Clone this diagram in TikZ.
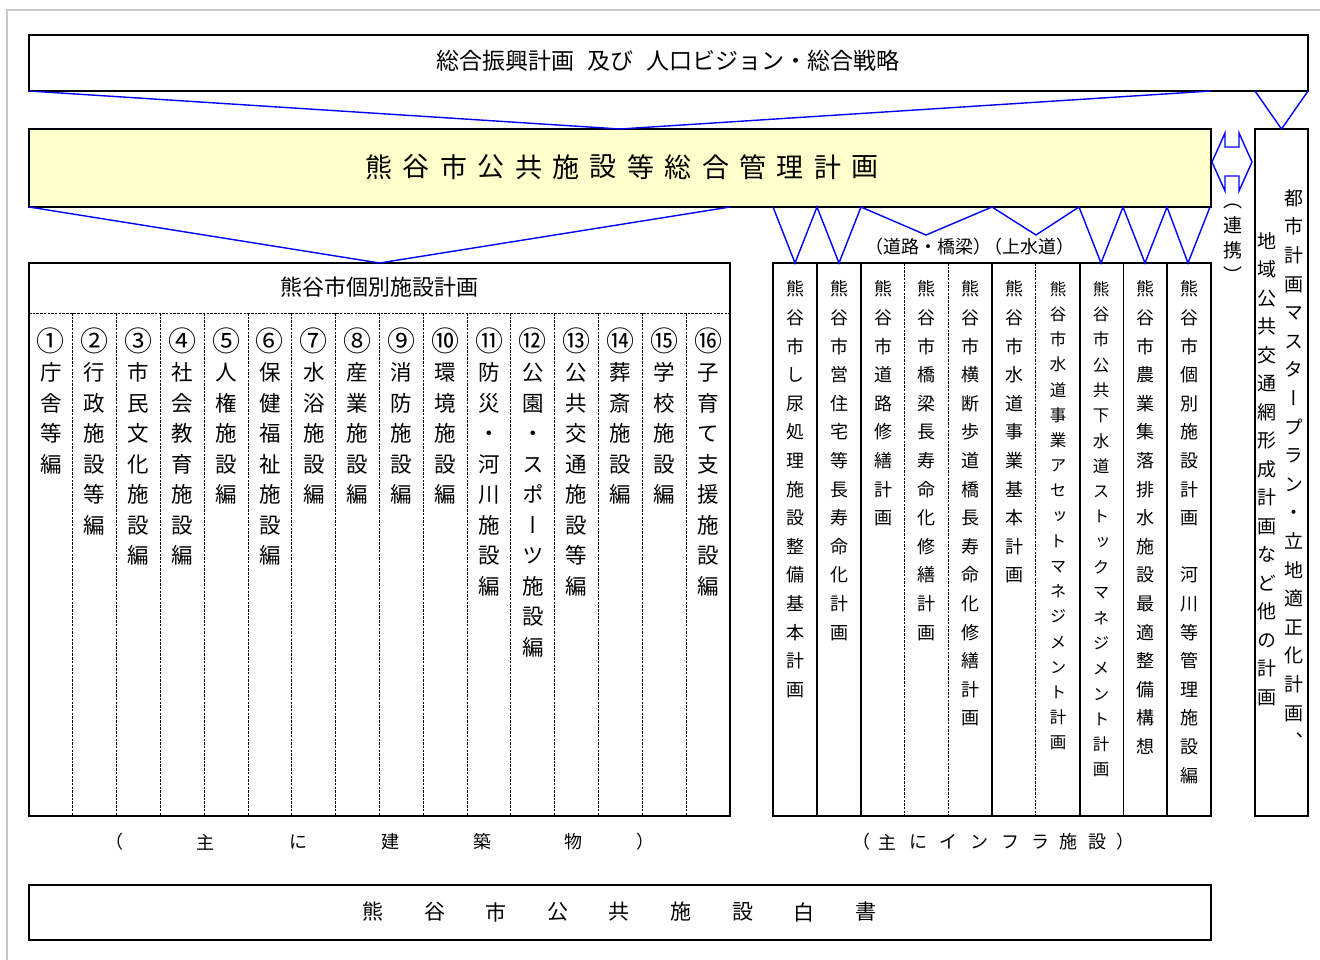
\documentclass[tikz,border=0pt]{standalone}
\usepackage{fontspec}
\setmainfont{Noto Sans CJK JP}
\newfontfamily\vfont[RawFeature=+vert]{Noto Sans CJK JP}
\usetikzlibrary{calc}
\definecolor{yellowbg}{RGB}{255,255,204}
\definecolor{framegray}{RGB}{200,200,200}
\definecolor{lineblue}{RGB}{0,0,255}
\ExplSyntaxOn
\dim_new:N \l_vt_pitch_dim
\tl_new:N \l_vt_text_tl
\NewDocumentCommand{\vt}{mm}{
  \dim_set:Nn \l_vt_pitch_dim {#1}
  \tl_set:Nx \l_vt_text_tl {#2}
  \vbox:n {
    \offinterlineskip
    \tl_map_inline:Nn \l_vt_text_tl {
      \hbox_to_wd:nn {1.2em} { \hss \vbox_to_ht:nn {\l_vt_pitch_dim} { \vss \hbox:n { \vrule height 0.88em depth 0.12em width 0pt ##1 } \vss } \hss }
    }
  }
}
\ExplSyntaxOff
\tikzset{
  box/.style={draw=black, line width=1.8pt, inner sep=0pt, outer sep=0pt, anchor=north west},
  vcol/.style={inner sep=0pt, outer sep=0pt, anchor=north},
  dashline/.style={draw=black, line width=0.9pt, dash pattern=on 2.5pt off 1.2pt},
  solidline/.style={draw=black, line width=1.8pt},
  blueline/.style={draw=lineblue, line width=1.4pt, line join=miter},
  lbl/.style={inner sep=0pt, outer sep=0pt}
}
\newcommand\vcolumn[6]{\node[vcol, font=\vfont\fontsize{#5}{#5}\selectfont] (#1) at (#2,{#3-#4/2}) {\vt{#4pt}{#6}};}
\begin{document}
\begin{tikzpicture}[x=1pt,y=-1pt]
\useasboundingbox (0,0) rectangle (1320,960);
\fill[white] (0,0) rectangle (1320,960);
\draw[framegray, line width=2pt] (7,970) -- (7,10) -- (1330,10);

% boxes
\node[box, minimum width=1279pt, minimum height=56pt] (top) at (29,35) {};
\node[box, fill=yellowbg, minimum width=1182pt, minimum height=78pt] (main) at (29,129) {};
\node[box, minimum width=701pt, minimum height=553pt] (lbox) at (29,263) {};
\node[box, minimum width=438pt, minimum height=553pt] (ibox) at (773,263) {};
\node[box, minimum width=53pt, minimum height=687pt] (rbox) at (1255,129) {};
\node[box, minimum width=1182pt, minimum height=55pt] (wbook) at (29,885) {};

% top text
\node[lbl, font=\fontsize{23}{23}\selectfont] (toptext) at (668,61) {総合振興計画\hspace{0.55em}及び\hspace{0.55em}人口ビジョン・総合戦略};

% main title
\foreach \c [count=\i from 0] in {熊,谷,市,公,共,施,設,等,総,合,管,理,計,画}
  \node[lbl, font=\fontsize{27}{27}\selectfont] (m\i) at ({379+37.4*\i},167) {\c};

% blue connectors
\draw[blueline] (top.south west) -- (main.north) -- (top.south -| main.east);
\draw[blueline] (top.south -| rbox.west) -- (rbox.north) -- (top.south east);
\draw[blueline] (main.south west) -- (lbox.north) -- (main.south -| lbox.east);
\draw[blueline] (773,207) -- (795,263) -- (817,207) -- (839,263) -- (861,207) -- (926,235) -- (992,207) -- (1036,235) -- (1079,207) -- (1101,263) -- (1123,207) -- (1145,263) -- (1167,207) -- (1188,263) -- (1210,207);

% renkei arrow
\draw[blueline, fill=white] (1212,162) -- (1225,133) -- (1225,147) -- (1239,147) -- (1239,133) -- (1252,162) -- (1239,191) -- (1239,176) -- (1225,176) -- (1225,191) -- cycle;
\vcolumn{renkei}{1233}{200}{25}{19}{（連携）}

% left box
\node[lbl, font=\fontsize{22}{22}\selectfont] (lhead) at (379,287) {熊谷市個別施設計画};
\draw[dashline] (29,313) -- (730,313);
\foreach \i in {1,...,15}
  \draw[dashline] ({29+43.8125*\i},313) -- ({29+43.8125*\i},816);
\foreach \n/\t [count=\i] in {①/庁舎等編,②/行政施設等編,③/市民文化施設編,④/社会教育施設編,⑤/人権施設編,⑥/保健福祉施設編,⑦/水浴施設編,⑧/産業施設編,⑨/消防施設編,⑩/環境施設編,⑪/防災・河川施設編,⑫/公園・スポーツ施設編,⑬/公共交通施設等編,⑭/葬斎施設編,⑮/学校施設編,⑯/子育て支援施設編}
{
  \node[lbl, font=\fontsize{28}{28}\selectfont] (N\i) at ({29+43.8125*(\i-0.5)},341) {\n};
  \node[vcol, font=\vfont\fontsize{21.5}{21.5}\selectfont] (L\i) at ({29+43.8125*(\i-0.5)},{372.5-15.25}) {\vt{30.5pt}{\t}};
}

% infra box
\node[lbl, font=\fontsize{18}{18}\selectfont] (ilabel) at (970,247) {（道路・橋梁）\hspace{-0.4em}（上水道）};
\foreach \x in {816.8,860.6,992,1079.6,1123.4,1167.2}
  \draw[solidline] (\x,263) -- (\x,816);
\foreach \x in {904.4,948.2,1035.8}
  \draw[dashline] (\x,263) -- (\x,816);
\vcolumn{i1}{795}{289}{28.6}{18}{熊谷市し尿処理施設整備基本計画}
\vcolumn{i2}{839}{289}{28.6}{18}{熊谷市営住宅等長寿命化計画}
\vcolumn{i3}{883}{289}{28.6}{18}{熊谷市道路修繕計画}
\vcolumn{i4}{926}{289}{28.6}{18}{熊谷市橋梁長寿命化修繕計画}
\vcolumn{i5}{970}{289}{28.6}{18}{熊谷市横断歩道橋長寿命化修繕計画}
\vcolumn{i6}{1014}{289}{28.6}{18}{熊谷市水道事業基本計画}
\vcolumn{i7}{1058}{289}{25.2}{16.5}{熊谷市水道事業アセットマネジメント計画}
\vcolumn{i8}{1101}{289}{25.3}{16.5}{熊谷市公共下水道ストックマネジメント計画}
\vcolumn{i9}{1145}{289}{28.6}{18}{熊谷市農業集落排水施設最適整備構想}
\vcolumn{i10}{1189}{289}{28.6}{18}{熊谷市個別施設計画　河川等管理施設編}

% right box
\vcolumn{r1}{1294}{198}{28.6}{19}{都市計画マスタープラン・立地適正化計画、}
\vcolumn{r2}{1267}{241}{28.5}{19}{地域公共交通網形成計画など他の計画}

% bottom labels
\foreach \c/\x [count=\i] in {（/114,主/205,に/298,建/390,築/482,物/573,）/645}
  \node[lbl, font=\fontsize{18}{18}\selectfont] (bl\i) at (\x,842) {\c};
\foreach \c/\x [count=\i] in {（/861,主/887,に/918,イ/948,ン/979,フ/1010,ラ/1040,施/1068,設/1097,）/1125}
  \node[lbl, font=\fontsize{18}{18}\selectfont] (br\i) at (\x,842) {\c};

% white book
\foreach \c [count=\i from 0] in {熊,谷,市,公,共,施,設,白,書}
  \node[lbl, font=\fontsize{21}{21}\selectfont] (w\i) at ({373+61.6*\i},912) {\c};
\end{tikzpicture}
\end{document}
